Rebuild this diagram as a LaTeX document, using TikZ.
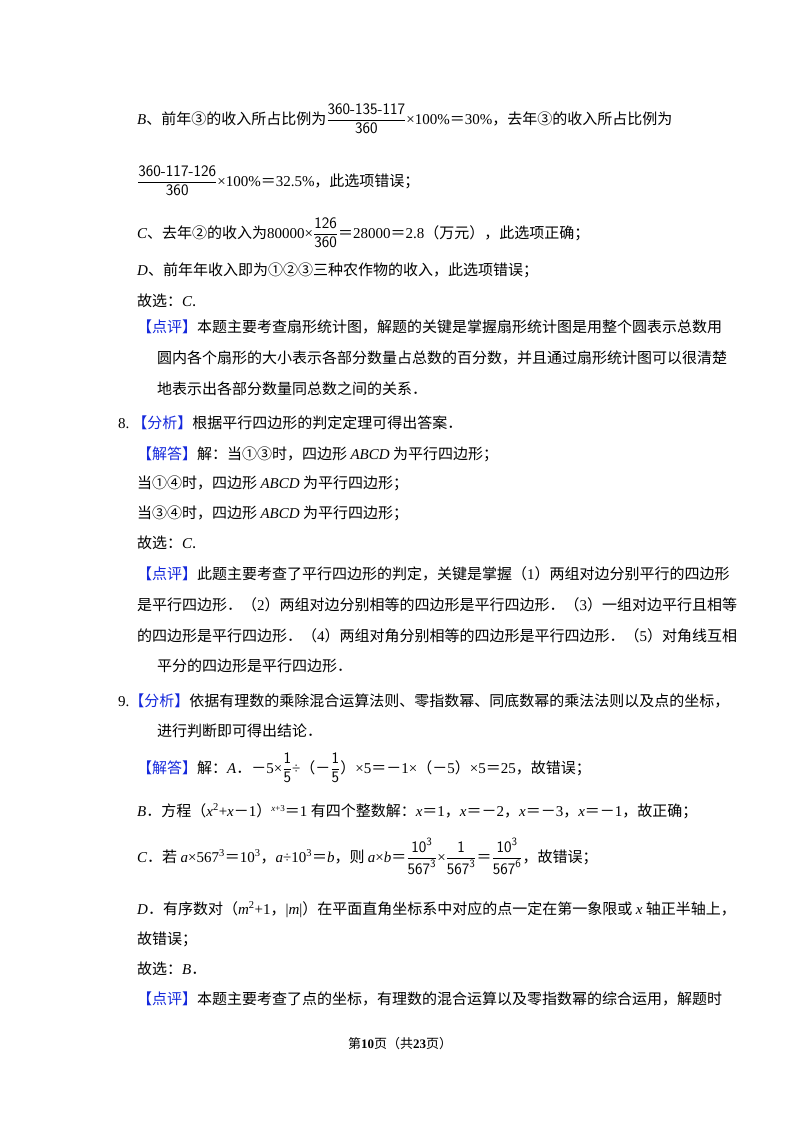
\documentclass[tikz,border=0pt]{standalone}
\usepackage{amsmath}
\usepackage{fontspec}
\setmainfont{Noto Sans CJK SC}
\newfontfamily\cjk{Noto Sans CJK SC}
\newfontfamily\lat{Liberation Serif}
\newcommand\EQ{{\cjk ＝}}
\newcommand\MI{{\cjk －}}
\newcommand\Li[1]{{\lat #1}}
\newcommand\It[1]{{\lat\itshape #1}}
\newcommand\Fr[2]{$\dfrac{\mbox{\sffamily\fontsize{16}{16}\selectfont #1}}{\mbox{\sffamily\fontsize{16}{16}\selectfont #2}}$}
\definecolor{tagblue}{RGB}{20,40,220}
\newcommand\Tag[1]{{\color{tagblue}【#1】}}
\begin{document}
\begin{tikzpicture}[x=1pt,y=-1pt,
  ln/.style={anchor=base west,inner sep=0pt,font=\fontsize{15}{18}\selectfont}]
\fill[white] (0,0) rectangle (800,1132);
\node[ln] (l1) at (137,124) {\It{B}、前年③的收入所占比例为\Fr{360-135-117}{360}\Li{×100\%}\EQ\Li{30\%}，去年③的收入所占比例为};
\node[ln] (l2) at (137,186) {\Fr{360-117-126}{360}\Li{×100\%}\EQ\Li{32.5\%}，此选项错误；};
\node[ln] (l3) at (137,238) {\It{C}、去年②的收入为\Li{80000×}\Fr{126}{360}\EQ\Li{28000}\EQ\Li{2.8}（万元），此选项正确；};
\node[ln] (l4) at (137,275) {\It{D}、前年年收入即为①②③三种农作物的收入，此选项错误；};
\node[ln] (l5) at (137,306) {故选：\It{C}.};
\node[ln] (l6) at (137,332) {\Tag{点评}本题主要考查扇形统计图，解题的关键是掌握扇形统计图是用整个圆表示总数用};
\node[ln] (l7) at (157,363) {圆内各个扇形的大小表示各部分数量占总数的百分数，并且通过扇形统计图可以很清楚};
\node[ln] (l8) at (157,394) {地表示出各部分数量同总数之间的关系．};
\node[ln] (l9) at (118,428) {\Li{8.}\hspace{3pt}\Tag{分析}根据平行四边形的判定定理可得出答案．};
\node[ln] (l10) at (137,459) {\Tag{解答}解：当①③时，四边形 \It{ABCD} 为平行四边形；};
\node[ln] (l11) at (137,488) {当①④时，四边形 \It{ABCD} 为平行四边形；};
\node[ln] (l12) at (137,518) {当③④时，四边形 \It{ABCD} 为平行四边形；};
\node[ln] (l13) at (137,548) {故选：\It{C}.};
\node[ln] (l14) at (137,579) {\Tag{点评}此题主要考查了平行四边形的判定，关键是掌握（\Li{1}）两组对边分别平行的四边形};
\node[ln] (l15) at (137,610) {是平行四边形．（\Li{2}）两组对边分别相等的四边形是平行四边形．（\Li{3}）一组对边平行且相等};
\node[ln] (l16) at (137,641) {的四边形是平行四边形．（\Li{4}）两组对角分别相等的四边形是平行四边形．（\Li{5}）对角线互相};
\node[ln] (l17) at (157,671) {平分的四边形是平行四边形．};
\node[ln] (l18) at (118,706) {\Li{9.}\Tag{分析}依据有理数的乘除混合运算法则、零指数幂、同底数幂的乘法法则以及点的坐标，};
\node[ln] (l19) at (157,736) {进行判断即可得出结论．};
\node[ln] (l20) at (137,773) {\Tag{解答}解：\It{A}．\MI\Li{5×}\Fr{1}{5}\Li{÷}（\MI\Fr{1}{5}）\Li{×5}\EQ\MI\Li{1×}（\MI\Li{5}）\Li{×5}\EQ\Li{25}，故错误；};
\node[ln] (l21) at (137,816) {\It{B}．方程（\It{x}\Li{\textsuperscript{2}+}\It{x}\MI\Li{1}）\raisebox{5pt}{\fontsize{9}{9}\selectfont\It{x}\Li{+3}}\EQ\Li{1} 有四个整数解：\It{x}\EQ\Li{1}，\It{x}\EQ\MI\Li{2}，\It{x}\EQ\MI\Li{3}，\It{x}\EQ\MI\Li{1}，故正确；};
\node[ln] (l22) at (137,862) {\It{C}．若 \It{a}\Li{×567\textsuperscript{3}}\EQ\Li{10\textsuperscript{3}}，\It{a}\Li{÷10\textsuperscript{3}}\EQ\It{b}，则 \It{a}\Li{×}\It{b}\EQ\Fr{10\textsuperscript{3}}{567\textsuperscript{3}}\Li{×}\Fr{1}{567\textsuperscript{3}}\EQ\Fr{10\textsuperscript{3}}{567\textsuperscript{6}}，故错误；};
\node[ln] (l23) at (137,914) {\It{D}．有序数对（\It{m}\Li{\textsuperscript{2}+1}，\Li{|}\It{m}\Li{|}）在平面直角坐标系中对应的点一定在第一象限或 \It{x} 轴正半轴上，};
\node[ln] (l24) at (137,944) {故错误；};
\node[ln] (l25) at (137,974) {故选：\It{B}．};
\node[ln] (l26) at (137,1004) {\Tag{点评}本题主要考查了点的坐标，有理数的混合运算以及零指数幂的综合运用，解题时};
\node[ln,font=\fontsize{13}{15}\selectfont] (ft) at (348,1048) {第\textbf{\Li{10}}页（共\textbf{\Li{23}}页）};
\end{tikzpicture}
\end{document}
